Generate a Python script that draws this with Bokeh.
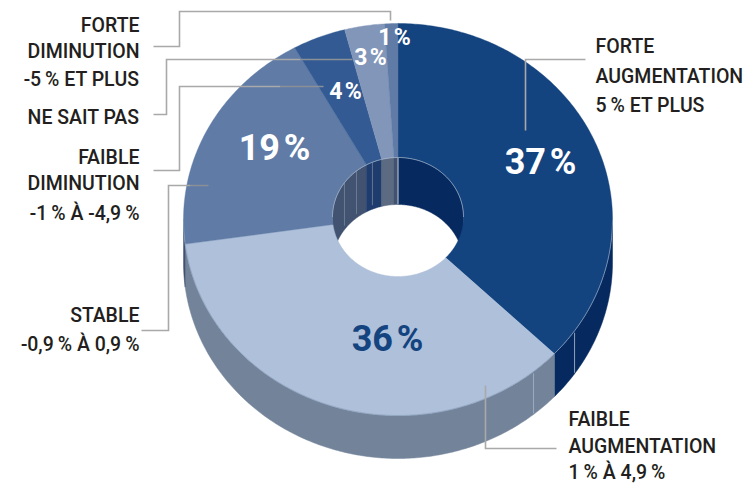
import numpy as np
from bokeh.plotting import figure
from bokeh.core.properties import value
from bokeh.embed import file_html
from bokeh.resources import INLINE

# data
categories = ["Forte augmentation", "Faible augmentation", "Stable", "Faible diminution", "Ne sait pas", "Forte diminution"]
shares = [37, 36, 19, 4, 3, 1]
top_colors = ["#14447f", "#aec0da", "#5f7ba6", "#335a92", "#8196b9", "#5f7ba6"]
side_colors = ["#062a60", "#73849a", "#425372", "#1e3d6e", "#5c6a82", "#425372"]
slice_labels = ["37\u200a%", "36\u200a%", "19\u200a%", "4\u200a%", "3\u200a%", "1\u200a%"]
slice_label_colors = ["white", "#14447f", "white", "white", "white", "white"]
slice_label_x = [540, 387, 274, 345, 370, 394]
slice_label_y = [161, 338, 147, 91, 57, 37]
slice_label_sizes = ["36px", "36px", "36px", "23px", "23px", "23px"]

right_text = [("FORTE", 595, 46), ("AUGMENTATION", 595, 76), ("5\u2009% ET PLUS", 595, 105),
              ("FAIBLE", 568, 419), ("AUGMENTATION", 568, 446), ("1\u2009% À 4,9\u2009%", 568, 472)]
left_text = [("FORTE", 139, 25), ("DIMINUTION", 139, 51), ("-5\u2009% ET PLUS", 139, 79),
             ("NE SAIT PAS", 139, 117),
             ("FAIBLE", 139, 157), ("DIMINUTION", 139, 183), ("-1\u2009% À -4,9\u2009%", 139, 213),
             ("STABLE", 139, 315), ("-0,9\u2009% À 0,9\u2009%", 139, 344)]
leaders = [
    ([153, 179, 179, 390, 390], [46, 46, 11, 11, 20], "#a9a9a9"),
    ([153, 166, 166, 300], [114, 114, 59, 59], "#a9a9a9"),
    ([153, 179, 179, 280], [170, 170, 86, 86], "#a9a9a9"),
    ([141, 168, 168, 190], [330, 330, 185, 185], "#a9a9a9"),
    ([556, 485, 485], [448, 448, 385], "#a9a9a9"),
    ([585, 525, 525], [59, 59, 130], "#a9a9a9"),
    ([300, 352], [59, 59], "#8a8f98"),
    ([280, 323], [86, 86], "#8a8f98"),
    ([190, 208], [185, 185], "#8a8f98"),
]

# geometry of the tilted ring
CX, CY, RX, RY, DEPTH = 397.5, 219.0, 214.5, 196.0, 43.0
HX, HY, HRX, HRY, HDEPTH = 397.5, 216.5, 65.5, 59.5, 47.0

p = figure(width=746, height=484, x_range=(0, 746), y_range=(484, 0),
           output_backend="svg", toolbar_location=None, min_border=0,
           outline_line_color=None)
p.axis.visible = False
p.grid.visible = False
p.background_fill_color = "white"
p.border_fill_color = "white"


def arc(cx, cy, rx, ry, a0, a1, dy=0.0):
    n = max(2, int(abs(a1 - a0) * 1.5) + 2)
    t = np.radians(np.linspace(a0, a1, n))
    return cx + rx * np.sin(t), cy - ry * np.cos(t) + dy


edges = np.cumsum([0] + shares) * 3.6

# outer wall: front half only
for i in range(len(shares)):
    a0, a1 = max(edges[i], 90), min(edges[i + 1], 270)
    if a1 <= a0:
        continue
    x0, y0 = arc(CX, CY, RX, RY, a0, a1)
    x1, y1 = arc(CX, CY, RX, RY, a1, a0, DEPTH)
    p.patch(np.r_[x0, x1], np.r_[y0, y1], fill_color=side_colors[i], line_color=side_colors[i], line_width=0.5)

# inner wall: back half of the hole
for i in range(len(shares)):
    for lo, hi in ((0, 90), (270, 360)):
        a0, a1 = max(edges[i], lo), min(edges[i + 1], hi)
        if a1 <= a0:
            continue
        x0, y0 = arc(HX, HY, HRX, HRY, a0, a1)
        x1, y1 = arc(HX, HY, HRX, HRY, a1, a0, HDEPTH)
        p.patch(np.r_[x0, x1], np.r_[y0, y1], fill_color=side_colors[i], line_color=side_colors[i], line_width=0.5)

# pale seams of the walls
seam_color = "#9fb0c8"
for a in (305.2, 320.7, 337.0):
    x0, y0 = arc(HX, HY, HRX, HRY, a, a)
    x1, y1 = arc(HX, HY, HRX, HRY, a, a, HDEPTH - 4)
    p.line([x0[0], x1[0]], [y0[0], y1[0]], line_color="#76849c", line_width=0.8)
p.line([HX, HX], [HY - HRY, HY - HRY + HDEPTH], line_color="#c3ccd9", line_width=1)
for a in (124.6, 140.8):
    x0, y0 = arc(CX, CY, RX, RY, a, a)
    p.line([x0[0], x0[0]], [y0[0] + 2, y0[0] + DEPTH - 1], line_color=seam_color, line_width=0.9)

# top face
for i in range(len(shares)):
    a0, a1 = edges[i], edges[i + 1]
    x0, y0 = arc(CX, CY, RX, RY, a0, a1)
    x1, y1 = arc(HX, HY, HRX, HRY, a1, a0)
    p.patch(np.r_[x0, x1], np.r_[y0, y1], fill_color=top_colors[i], line_color=top_colors[i], line_width=0.4)

# rim highlights
rx_, ry_ = arc(CX, CY, RX, RY, 90, 270)
p.line(rx_, ry_, line_color="#8ea2bf", line_width=0.8)
hx_, hy_ = arc(HX, HY, HRX, HRY, -90, 90)
p.line(hx_, hy_, line_color="#a9b7cb", line_width=0.8)

# leaders
for xs, ys, col in leaders:
    p.line(xs, ys, line_color=col, line_width=1.6, line_join="miter")

# labels
font = value("Roboto Medium")
p.text(x=[t[1] for t in right_text], y=[t[2] for t in right_text], text=[t[0] for t in right_text],
       text_font=font, text_font_size="19.5px", text_color="#231f20",
       text_align="left", text_baseline="middle")
p.text(x=[t[1] for t in left_text], y=[t[2] for t in left_text], text=[t[0] for t in left_text],
       text_font=font, text_font_size="19.5px", text_color="#231f20",
       text_align="right", text_baseline="middle")
for i in range(len(shares)):
    p.text(x=[slice_label_x[i]], y=[slice_label_y[i]], text=[slice_labels[i]],
           text_font=value("Roboto"), text_font_style="bold", text_font_size=slice_label_sizes[i],
           text_color=slice_label_colors[i], text_align="center", text_baseline="middle")

open("out.html", "w").write(file_html(p, INLINE))
